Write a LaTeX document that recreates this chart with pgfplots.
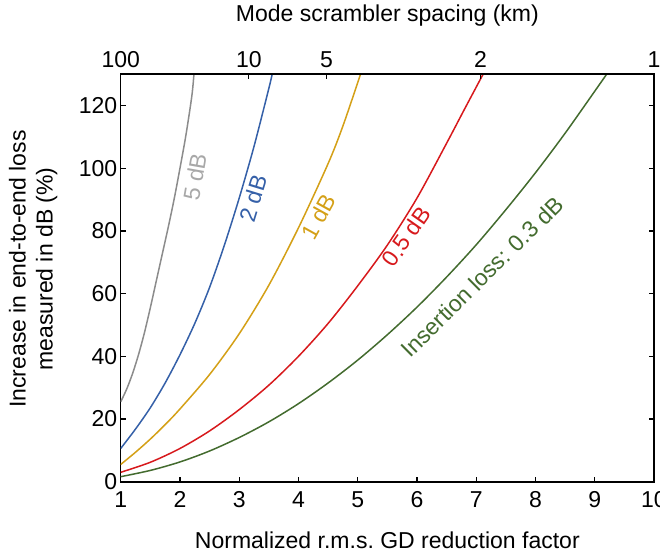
\documentclass[border=0pt]{standalone}
\usepackage{fontspec}
\setmainfont{Liberation Sans}
\usepackage{pgfplots}
\pgfplotsset{compat=1.18}
\definecolor{cgray}{HTML}{8C8C8C}
\definecolor{cgraylab}{HTML}{A8A8A8}
\definecolor{cblue}{HTML}{3560A8}
\definecolor{cyel}{HTML}{D4A017}
\definecolor{cred}{HTML}{D7191C}
\definecolor{cgreen}{HTML}{436B2E}
\newcommand{\fs}{\fontsize{23bp}{27bp}\selectfont}
\begin{document}
\begin{tikzpicture}
\begin{axis}[
  scale only axis, width=533.3bp, height=407.4bp,
  xmin=1, xmax=10, ymin=0, ymax=130,
  xtick={1,2,...,10}, ytick={0,20,...,120},
  xtick pos=bottom, ytick pos=both,
  tick align=inside, major tick length=5bp,
  axis line style={line width=1.6bp},
  every tick/.style={black, line width=1.2bp},
  tick label style={font=\fs},
  xticklabel style={yshift=-6bp},
  /pgf/number format/assume math mode=true,
  xlabel={Normalized r.m.s.\ GD reduction factor},
  xlabel style={font=\fs, at={(axis description cs:0.5,-0.144)}, anchor=center},
  ylabel={Increase in end-to-end loss\\measured in dB (\%)},
  ylabel style={font=\fs, align=center, at={(axis description cs:-0.164,0.522)}, anchor=center},
  every axis plot/.append style={line width=1.5bp, smooth, tension=0.5},
]
\addplot[cgray] coordinates {(1,25.5) (1.1,29.5) (1.2,34.5) (1.3,40.5) (1.4,47.5) (1.5,55.5) (1.6,64) (1.7,72.5) (1.8,81) (1.9,90) (2.0,100) (2.1,110.5) (2.2,123) (2.236,130)};
\addplot[cblue] coordinates {(1,10.6) (1.25,16.8) (1.5,23.6) (1.75,31.5) (2.0,40.5) (2.25,50.5) (2.5,62) (2.75,75.5) (3.0,90.5) (3.25,107) (3.5,125.5) (3.556,130)};
\addplot[cyel] coordinates {(1,5.5) (1.25,9.4) (1.5,13.6) (1.75,18.2) (2.0,23.2) (2.5,34.2) (3.0,47.2) (3.5,62.7) (4.0,81) (4.5,101.5) (4.75,113.5) (5.047,130)};
\addplot[cred] coordinates {(1,3.0) (1.5,6.2) (2.0,10.6) (2.5,16.2) (3.0,23.0) (3.5,30.8) (4.0,40.0) (4.5,50.5) (5.0,62.5) (5.5,75.5) (6.0,90.5) (6.5,108) (6.8,118.8) (7.115,130)};
\addplot[cgreen] coordinates {(1,1.6) (1.5,3.6) (2.0,6.3) (2.5,9.8) (3.0,14.1) (3.5,19.1) (4.0,24.9) (4.5,31.5) (5.0,38.8) (5.5,46.9) (6.0,55.7) (6.5,65.3) (7.0,75.6) (7.5,86.8) (8.0,98.6) (8.5,111.2) (9.0,124.6) (9.2,130)};
\node[rotate=80, text=cgraylab, font=\fs] at (axis cs:2.25,97.3) {5 dB};
\node[rotate=73, text=cblue, font=\fs] at (axis cs:3.24,90.4) {2 dB};
\node[rotate=61, text=cyel, font=\fs] at (axis cs:4.34,84.5) {1 dB};
\node[rotate=55, text=cred, font=\fs] at (axis cs:5.82,78.2) {0.5 dB};
\node[rotate=44.7, text=cgreen, font=\fs] at (axis cs:7.10,65.4) {Insertion loss: 0.3 dB};
\end{axis}
\begin{axis}[
  scale only axis, width=533.3bp, height=407.4bp,
  xmin=1, xmax=10, ymin=0, ymax=130,
  axis x line*=top, axis y line=none,
  xtick={1,3.1623,4.4721,7.0711,10}, xticklabels={100,10,5,2,1},
  tick align=inside, major tick length=5bp,
  axis line style={line width=1.6bp, -},
  every tick/.style={black, line width=1.2bp},
  tick label style={font=\fs},
  xticklabel style={yshift=3bp},
  /pgf/number format/assume math mode=true,
  xlabel={Mode scrambler spacing (km)},
  xlabel style={font=\fs, at={(axis description cs:0.5,1.143)}, anchor=center},
]
\end{axis}
\pgfresetboundingbox
\path (-120.7bp,-75.3bp) rectangle (539.3bp,481.7bp);
\end{tikzpicture}
\end{document}
